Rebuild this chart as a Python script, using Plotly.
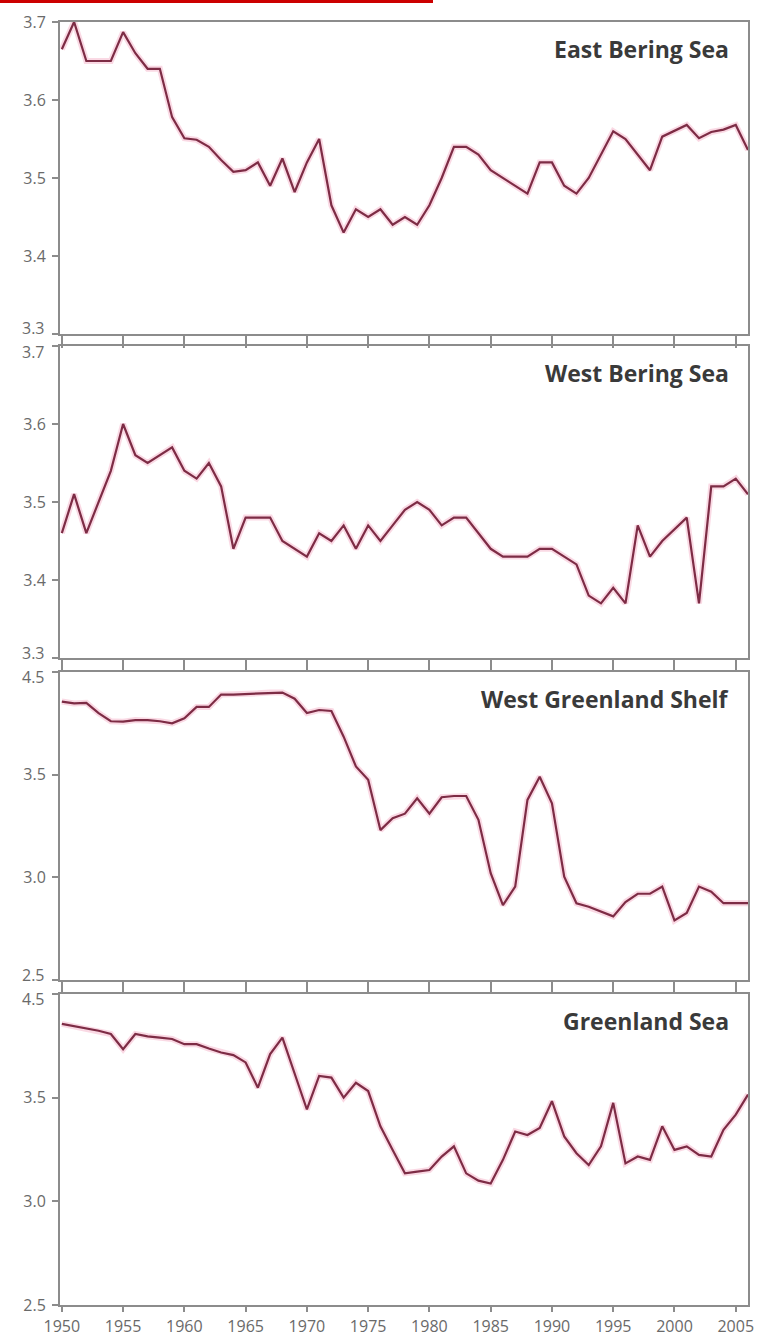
import plotly.graph_objects as go

# ---------------- data ----------------
years = list(range(1950, 2007))

east_bering = [3.665, 3.70, 3.65, 3.65, 3.65, 3.687, 3.66, 3.64, 3.64, 3.578,
               3.551, 3.549, 3.54, 3.523, 3.508, 3.51, 3.52, 3.49, 3.525, 3.482,
               3.52, 3.55, 3.465, 3.43, 3.46, 3.45, 3.46, 3.44, 3.45, 3.44,
               3.465, 3.50, 3.54, 3.54, 3.53, 3.51, 3.50, 3.49, 3.48, 3.52,
               3.52, 3.49, 3.48, 3.50, 3.53, 3.56, 3.55, 3.53, 3.51, 3.553,
               3.56, 3.568, 3.551, 3.559, 3.562, 3.568, 3.536]

west_bering = [3.46, 3.51, 3.46, 3.50, 3.54, 3.60, 3.56, 3.55, 3.56, 3.57,
               3.54, 3.53, 3.55, 3.52, 3.44, 3.48, 3.48, 3.48, 3.45, 3.44,
               3.43, 3.46, 3.45, 3.47, 3.44, 3.47, 3.45, 3.47, 3.49, 3.50,
               3.49, 3.47, 3.48, 3.48, 3.46, 3.44, 3.43, 3.43, 3.43, 3.44,
               3.44, 3.43, 3.42, 3.38, 3.37, 3.39, 3.37, 3.47, 3.43, 3.45,
               3.465, 3.48, 3.37, 3.52, 3.52, 3.53, 3.51]

west_greenland = [3.856, 3.847, 3.85, 3.80, 3.76, 3.758, 3.766, 3.766, 3.76, 3.75,
                  3.775, 3.83, 3.83, 3.89, 3.89, 3.893, 3.896, 3.90, 3.90, 3.87,
                  3.80, 3.815, 3.81, 3.685, 3.54, 3.475, 3.23, 3.288, 3.31, 3.385,
                  3.31, 3.39, 3.396, 3.396, 3.28, 3.02, 2.865, 2.955, 3.377, 3.49,
                  3.36, 3.003, 2.874, 2.857, 2.833, 2.81, 2.88, 2.92, 2.92, 2.955,
                  2.79, 2.826, 2.955, 2.93, 2.874, 2.874, 2.874]

greenland_sea = [3.856, 3.845, 3.835, 3.823, 3.807, 3.734, 3.807, 3.796, 3.79, 3.783,
                 3.758, 3.758, 3.737, 3.718, 3.705, 3.67, 3.548, 3.71, 3.79, 3.62,
                 3.443, 3.605, 3.597, 3.50, 3.572, 3.532, 3.362, 3.248, 3.135, 3.143,
                 3.151, 3.216, 3.265, 3.135, 3.10, 3.086, 3.20, 3.337, 3.32, 3.354,
                 3.483, 3.313, 3.232, 3.175, 3.265, 3.475, 3.183, 3.216, 3.20, 3.362,
                 3.248, 3.265, 3.224, 3.216, 3.345, 3.418, 3.515]

panel_titles = ["East Bering Sea", "West Bering Sea", "West Greenland Shelf", "Greenland Sea"]

x_tick_vals = [1950, 1955, 1960, 1965, 1970, 1975, 1980, 1985, 1990, 1995, 2000, 2005]
x_tick_text = ["1950", "1955", "1960", "1965", "1970", "1975", "1980", "1985",
               "1990", "1995", "2000", "2005"]

bering_tick_vals = [3.3, 3.4, 3.5, 3.6, 3.7]
bering_tick_text = ["3.3", "3.4", "3.5", "3.6", "3.7"]
greenland_tick_vals = [2.5, 3.0, 3.5, 4.0]
greenland_tick_text = ["2.5", "3.0", "3.5", "4.5"]

# ---------------- figure ----------------
series = [east_bering, west_bering, west_greenland, greenland_sea]
y_ranges = [[3.3, 3.7], [3.3, 3.7], [2.5, 4.0], [2.5, 4.0]]
y_tvals = [bering_tick_vals, bering_tick_vals, greenland_tick_vals, greenland_tick_vals]
y_ttext = [bering_tick_text, bering_tick_text, greenland_tick_text, greenland_tick_text]

H = 1340
M_T, M_B, M_L, M_R = 22, 35, 60, 12
PH = H - M_T - M_B          # plot-area height in px
PW = 760 - M_L - M_R        # plot-area width in px


def py(p):
    """pixel row -> paper y"""
    return (H - M_B - p) / PH


panel_px = [(22, 334), (346, 658), (672, 980), (994, 1305)]
domains = [[py(b), py(t)] for (t, b) in panel_px]
domains[-1][0] = 0.0

AX = "#8c8c8c"
TXT = "#6a6a6a"
FONT = "Open Sans"
LINE = "#7d2c45"

fig = go.Figure()
layout = dict(
    width=760, height=H,
    margin=dict(l=M_L, r=M_R, t=M_T, b=M_B, autoexpand=False),
    paper_bgcolor="white", plot_bgcolor="white",
    showlegend=False,
    font=dict(family=FONT, color=TXT),
)

for i in range(4):
    n = i + 1
    xs = "x" if n == 1 else f"x{n}"
    ys = "y" if n == 1 else f"y{n}"
    fig.add_trace(go.Scatter(x=years, y=series[i], xaxis=xs, yaxis=ys, mode="lines",
                             line=dict(color="rgba(240,130,165,0.30)", width=6),
                             hoverinfo="skip"))
    fig.add_trace(go.Scatter(x=years, y=series[i], xaxis=xs, yaxis=ys, mode="lines",
                             line=dict(color=LINE, width=2.2),
                             name=panel_titles[i]))
    xk = "xaxis" if n == 1 else f"xaxis{n}"
    yk = "yaxis" if n == 1 else f"yaxis{n}"
    layout[xk] = dict(
        domain=[0, 1], anchor=ys, range=[1949.85, 2006],
        tickvals=x_tick_vals, ticktext=x_tick_text,
        ticks="outside", ticklen=12 if n < 4 else 5, tickcolor=AX, tickwidth=1.5,
        showline=True, linecolor=AX, linewidth=2, mirror=True,
        showgrid=False, zeroline=False, showticklabels=(n == 4),
        tickfont=dict(family=FONT, size=16, color=TXT),
        ticklabelstandoff=1, automargin=False,
    )
    # boundary labels between stacked panels are drawn as annotations
    ttext = list(y_ttext[i])
    if n > 1:
        ttext[-1] = ""
    if n < 4:
        ttext[0] = ""
    layout[yk] = dict(
        domain=domains[i], anchor=xs, range=y_ranges[i],
        tickvals=y_tvals[i], ticktext=ttext,
        ticks="outside", ticklen=6, tickcolor=AX, tickwidth=1.5,
        showline=True, linecolor=AX, linewidth=2, mirror=True,
        showgrid=False, zeroline=False,
        tickfont=dict(family=FONT, size=16, color=TXT),
        ticklabelstandoff=3, automargin=False,
    )

fig.update_layout(**layout)

# panel titles
for i in range(4):
    t, b = panel_px[i]
    fig.add_annotation(
        text=panel_titles[i], xref="paper", yref="paper",
        x=(731 - M_L) / PW, y=py(t + 27), xanchor="right", yanchor="middle",
        showarrow=False,
        font=dict(family=FONT, size=23, color="#3a3a3a", weight="bold"),
    )

# boundary tick labels (bottom of upper panel / top of lower panel)
label_x = (46 - M_L) / PW
for i in range(3):
    mid = (panel_px[i][1] + panel_px[i + 1][0]) / 2
    fig.add_annotation(text=y_ttext[i][0], xref="paper", yref="paper",
                       x=label_x, y=py(mid), xanchor="right", yanchor="bottom",
                       showarrow=False, borderpad=0,
                       font=dict(family=FONT, size=16, color=TXT))
    fig.add_annotation(text=y_ttext[i + 1][-1], xref="paper", yref="paper",
                       x=label_x, y=py(mid), xanchor="right", yanchor="top",
                       showarrow=False, borderpad=0,
                       font=dict(family=FONT, size=16, color=TXT))

# red bar at very top-left
fig.add_shape(type="rect", xref="paper", yref="paper",
              x0=-M_L / PW, x1=(433 - M_L) / PW,
              y0=py(3), y1=py(0),
              fillcolor="#cc0000", line=dict(width=0), layer="above")

fig.write_html("out.html",
               config={"displayModeBar": False},
               post_script="document.body.style.margin='0px';document.body.style.padding='0px';")
